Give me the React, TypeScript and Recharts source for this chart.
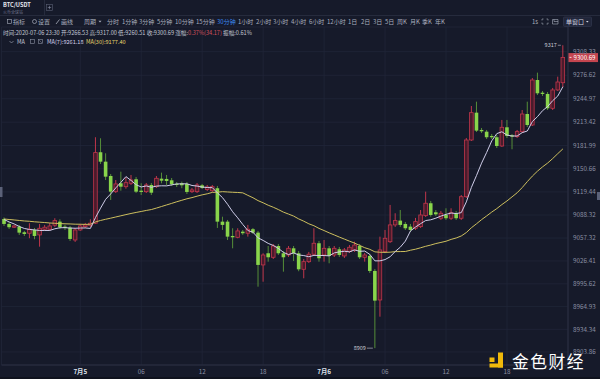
import React from "react";
import { ComposedChart, Bar, Line, XAxis, YAxis, CartesianGrid } from "recharts";

// BTC/USDT 30m candles, 07-04 16:30 .. 07-06 23:30
const opens = [
  9083.0, 9076.3, 9071.9, 9072.7, 9065.1, 9063.8, 9068.2, 9061.5, 9069.2, 9069.2,
  9074.6, 9079.4, 9072.7, 9071.3, 9054.7, 9068.2, 9072.7, 9074.6, 9077.3, 9172.9,
  9160.2, 9140.9, 9119.8, 9131.1, 9126.5, 9131.1, 9136.5, 9121.1, 9119.8, 9128.8,
  9126.5, 9137.3, 9136.9, 9135.1, 9130.2, 9131.1, 9130.2, 9119.8, 9119.8, 9128.4,
  9122.7, 9121.1, 9124.4, 9079.4, 9079.4, 9060.1, 9058.3, 9065.9, 9063.8, 9069.2,
  9064.6, 9021.1, 9036.8, 9031.4, 9046.6, 9036.8, 9034.5, 9043.5, 9036.8, 9015.2,
  9025.5, 9035.5, 9050.3, 9034.5, 9043.5, 9034.5, 9042.2, 9033.2, 9039.0, 9041.3,
  9046.6, 9031.4, 9033.2, 9013.0, 8973.9, 9039.0, 9052.4, 9075.0, 9080.8, 9076.3,
  9072.7, 9070.5, 9072.7, 9087.5, 9104.2, 9092.0, 9084.0, 9088.4, 9084.0, 9090.7,
  9084.0, 9113.0, 9189.4, 9226.2, 9202.9, 9200.6, 9194.8, 9193.1, 9181.3, 9206.5,
  9195.7, 9193.9, 9200.6, 9224.4, 9209.6, 9270.2, 9253.1, 9251.4, 9232.1, 9256.8,
  9266.53,
];
const highs = [
  9085.1, 9079.0, 9075.0, 9075.0, 9066.9, 9077.3, 9070.9, 9076.3, 9075.0, 9077.7,
  9084.0, 9082.6, 9075.0, 9073.6, 9070.9, 9076.3, 9077.7, 9082.6, 9193.1, 9191.7,
  9171.5, 9143.6, 9135.5, 9146.7, 9139.2, 9142.3, 9139.6, 9131.1, 9131.5, 9131.5,
  9140.9, 9145.4, 9142.3, 9138.2, 9132.8, 9133.3, 9132.8, 9124.8, 9131.5, 9130.2,
  9128.8, 9128.8, 9127.5, 9086.1, 9081.7, 9070.5, 9070.5, 9068.2, 9075.0, 9070.9,
  9066.9, 9036.8, 9046.6, 9049.3, 9049.3, 9039.9, 9046.6, 9046.6, 9039.9, 9029.1,
  9038.6, 9070.5, 9053.4, 9054.7, 9046.6, 9046.6, 9045.3, 9043.9, 9047.9, 9052.4,
  9049.3, 9037.2, 9035.9, 9015.7, 9059.2, 9068.2, 9101.9, 9090.7, 9095.1, 9079.0,
  9076.3, 9084.4, 9095.1, 9119.8, 9107.3, 9095.1, 9093.8, 9097.4, 9097.4, 9093.8,
  9115.3, 9192.1, 9235.2, 9241.0, 9205.6, 9202.9, 9197.5, 9196.2, 9216.4, 9216.4,
  9197.5, 9202.9, 9229.8, 9241.0, 9272.9, 9280.1, 9255.4, 9254.1, 9259.5, 9274.7,
  9317,
];
const lows = [
  9073.6, 9069.6, 9070.9, 9061.5, 9060.1, 9057.1, 9055.7, 9045.7, 9066.9, 9066.9,
  9072.3, 9069.6, 9068.2, 9053.4, 9052.1, 9066.9, 9070.9, 9072.3, 9076.3, 9157.1,
  9135.5, 9108.6, 9118.0, 9121.1, 9123.8, 9128.8, 9118.0, 9115.3, 9118.0, 9115.3,
  9124.8, 9131.1, 9128.8, 9127.5, 9126.1, 9124.4, 9116.7, 9118.0, 9118.0, 9123.4,
  9120.7, 9119.4, 9070.9, 9068.2, 9054.7, 9043.5, 9057.0, 9061.5, 9059.2, 9062.8,
  8991.8, 8998.5, 9025.5, 9029.1, 9034.5, 9012.0, 9031.8, 9026.4, 9012.6, 9003.1,
  9023.7, 9033.2, 9025.5, 9025.5, 9023.3, 9031.8, 9031.8, 9030.5, 9037.2, 9038.6,
  9029.1, 9025.5, 9010.3, 8909.0, 8951.4, 9037.2, 9050.7, 9072.3, 9072.3, 9068.2,
  9065.5, 9068.2, 9070.9, 9085.7, 9086.1, 9087.0, 9081.7, 9081.7, 9081.7, 9081.7,
  9081.7, 9111.3, 9188.1, 9200.2, 9198.8, 9190.7, 9190.7, 9178.6, 9180.0, 9192.1,
  9176.9, 9192.1, 9198.8, 9206.9, 9208.3, 9250.0, 9248.7, 9229.8, 9229.8, 9255.4,
  9260.51,
];
const closes = [
  9076.3, 9071.9, 9073.6, 9064.6, 9062.8, 9069.2, 9060.1, 9070.5, 9071.9, 9073.6,
  9080.8, 9071.9, 9070.9, 9056.1, 9068.2, 9073.6, 9075.0, 9077.3, 9172.4, 9160.2,
  9140.0, 9119.8, 9130.2, 9126.5, 9131.9, 9135.5, 9119.8, 9119.4, 9128.8, 9118.4,
  9137.8, 9134.6, 9134.2, 9129.7, 9128.8, 9128.4, 9119.4, 9122.1, 9128.8, 9124.8,
  9126.1, 9126.5, 9079.4, 9075.0, 9059.2, 9058.3, 9066.9, 9063.8, 9069.2, 9064.6,
  9021.1, 9034.5, 9031.4, 9046.6, 9036.8, 9031.4, 9043.5, 9036.8, 9015.2, 9025.5,
  9035.5, 9050.3, 9030.1, 9043.5, 9033.2, 9043.5, 9034.5, 9041.3, 9044.9, 9047.9,
  9031.4, 9034.5, 9013.0, 8973.0, 9041.3, 9057.0, 9075.0, 9080.8, 9075.0, 9070.5,
  9068.2, 9079.4, 9088.4, 9104.2, 9088.4, 9089.3, 9090.7, 9084.0, 9091.5, 9084.0,
  9113.0, 9189.4, 9226.2, 9202.0, 9201.1, 9193.1, 9193.1, 9181.3, 9206.5, 9194.8,
  9193.9, 9200.6, 9224.4, 9209.6, 9270.2, 9252.3, 9251.4, 9232.1, 9256.8, 9267.5,
  9300.69,
];
const ma7 = [
  9082.3, 9079.0, 9076.3, 9072.9, 9070.2, 9068.9, 9068.3, 9067.5, 9067.5, 9067.5,
  9069.8, 9071.2, 9071.3, 9070.8, 9070.5, 9070.8, 9070.9, 9070.3, 9084.8, 9097.6,
  9109.5, 9116.8, 9124.9, 9132.3, 9140.1, 9134.9, 9129.1, 9126.1, 9127.5, 9125.7,
  9127.3, 9127.7, 9127.6, 9128.9, 9130.3, 9130.3, 9130.4, 9128.1, 9127.3, 9126.0,
  9125.4, 9125.2, 9118.2, 9111.8, 9102.8, 9092.7, 9084.5, 9075.6, 9067.4, 9065.2,
  9057.6, 9054.1, 9050.1, 9047.3, 9043.4, 9038.0, 9035.1, 9037.3, 9034.5, 9033.7,
  9032.1, 9034.0, 9033.8, 9033.8, 9033.3, 9037.3, 9038.7, 9039.5, 9038.7, 9041.3,
  9039.5, 9039.8, 9035.3, 9026.6, 9026.6, 9028.3, 9032.1, 9039.2, 9045.0, 9053.2,
  9066.8, 9072.2, 9076.7, 9080.9, 9081.9, 9084.1, 9086.9, 9089.2, 9091.0, 9090.3,
  9091.5, 9106.0, 9125.6, 9141.5, 9158.2, 9172.7, 9188.2, 9198.0, 9200.5, 9196.0,
  9194.8, 9194.8, 9199.3, 9201.5, 9214.3, 9220.8, 9228.9, 9234.4, 9242.4, 9248.6,
  9261.18,
];
const ma30 = [
  9083.0, 9082.3, 9081.7, 9081.0, 9080.3, 9079.9, 9079.2, 9078.7, 9078.2, 9077.6,
  9077.2, 9076.8, 9076.5, 9076.3, 9076.0, 9075.9, 9075.7, 9075.9, 9079.0, 9081.0,
  9082.6, 9084.1, 9085.7, 9087.3, 9088.9, 9090.4, 9091.8, 9093.1, 9094.5, 9095.7,
  9097.7, 9099.8, 9101.9, 9104.0, 9106.2, 9108.2, 9110.2, 9111.8, 9113.7, 9115.5,
  9116.9, 9118.8, 9119.1, 9119.8, 9119.4, 9119.0, 9118.7, 9118.2, 9114.8, 9111.6,
  9107.7, 9104.8, 9101.5, 9098.8, 9095.7, 9092.2, 9089.6, 9086.9, 9083.1, 9080.0,
  9076.5, 9073.9, 9070.3, 9067.4, 9064.3, 9061.5, 9058.6, 9055.9, 9053.1, 9050.5,
  9047.4, 9044.3, 9042.1, 9038.7, 9038.2, 9038.0, 9038.3, 9039.0, 9039.1, 9039.2,
  9040.9, 9042.3, 9044.2, 9046.2, 9047.9, 9049.9, 9051.4, 9053.0, 9055.5, 9057.4,
  9060.1, 9064.7, 9071.2, 9076.5, 9082.1, 9087.1, 9092.3, 9097.0, 9102.4, 9107.3,
  9112.8, 9118.3, 9125.3, 9133.3, 9140.8, 9147.4, 9153.2, 9158.3, 9164.4, 9171.0,
  9177.40,
];

const yTicks = [
  8903.86, 8934.34, 8964.93, 8995.62, 9026.41, 9057.32, 9088.32,
  9119.44, 9150.66, 9181.99, 9213.42, 9244.97, 9276.62, 9308.33,
];
const tickTimes = [
  "07-05 00:00", "07-05 06:00", "07-05 12:00", "07-05 18:00",
  "07-06 00:00", "07-06 06:00", "07-06 12:00", "07-06 18:00",
];
const tickLabels = ["7月5", "06", "12", "18", "7月6", "06", "12", "18"];
const periods = [
  "分时", "1分钟", "3分钟", "5分钟", "10分钟", "15分钟", "30分钟", "1小时", "2小时", "3小时", "4小时",
  "6小时", "12小时", "1日", "2日", "3日", "5日", "周K", "月K", "季K", "年K",
];

const FONT = "'Noto Sans CJK SC', 'Noto Sans', sans-serif";
const BG = "#161a2a";
const GRID = "#212638";
const AXIS = "#2a2f43";
const TXT = "#8a8fa2";
const RED = "#c0364b";
const RED_FILL = "#4a1b2c";
const GREEN = "#89d54b";
const GREEN_WICK = "#558e39";
const PLOT_RIGHT = 568;

const pad = (n: number) => String(n).padStart(2, "0");
const times = closes.map((_, i) => {
  const m = 16 * 60 + 30 + i * 30;
  const day = 4 + Math.floor(m / 1440);
  const mm = m % 1440;
  return `07-${pad(day)} ${pad(Math.floor(mm / 60))}:${pad(mm % 60)}`;
});

const data = closes.map((c, i) => ({
  t: times[i],
  open: opens[i],
  high: highs[i],
  low: lows[i],
  close: c,
  range: [lows[i], highs[i]],
  ma7: ma7[i],
  ma30: ma30[i],
}));

const maxHigh = Math.max(...highs);
const minLow = Math.min(...lows);
const lastIdx = closes.length - 1;

function Candle(props: any) {
  const { x, y, width, height, payload, index } = props;
  if (!payload) return null;
  const top = Math.min(y, y + height);
  const bot = Math.max(y, y + height);
  const { open, close, high, low } = payload;
  const span = high - low || 1;
  const py = (p: number) => top + ((high - p) / span) * (bot - top);
  const cx = x + width / 2;
  const up = close >= open;
  const bTop = py(Math.max(open, close));
  const bh = Math.max(py(Math.min(open, close)) - bTop, 0.8);
  const bw = 3.6;
  return (
    <g>
      <line x1={cx} x2={cx} y1={top} y2={bot} stroke={up ? RED : GREEN_WICK} strokeWidth={1} />
      <rect
        x={cx - bw / 2}
        y={bTop}
        width={bw}
        height={bh}
        fill={up ? RED_FILL : GREEN}
        stroke={up ? RED : "none"}
        strokeWidth={up ? 0.8 : 0}
      />
      {high === maxHigh && (
        <g>
          <text x={cx - 6} y={top + 2} textAnchor="end" fontSize={5.5} fill="#c9ccd8" fontFamily={FONT}>
            {high.toFixed(0)}
          </text>
          <line x1={cx - 5} x2={cx - 2} y1={top} y2={top} stroke="#c9ccd8" strokeWidth={0.6} />
        </g>
      )}
      {low === minLow && (
        <g>
          <text x={cx - 9} y={bot + 1.5} textAnchor="end" fontSize={5.5} fill="#c9ccd8" fontFamily={FONT}>
            {low.toFixed(0)}
          </text>
          <line x1={cx - 8} x2={cx - 2} y1={bot} y2={bot} stroke="#c9ccd8" strokeWidth={0.6} />
        </g>
      )}
      {index === lastIdx && (
        <g>
          <rect x={PLOT_RIGHT} y={py(close) - 4.3} width={30} height={9} fill="#c5454f" />
          <line x1={569.5} x2={571.5} y1={py(close)} y2={py(close)} stroke="#fff" strokeWidth={0.8} />
          <text x={573.5} y={py(close) + 2.2} fontSize={6.1} fill="#fff" fontFamily={FONT}>
            {close.toFixed(2)}
          </text>
        </g>
      )}
    </g>
  );
}

const XTick = ({ x, y, payload }: any) => {
  const label = tickLabels[tickTimes.indexOf(payload.value)];
  const day = label.includes("月");
  return (
    <text
      x={x}
      y={y + 6}
      textAnchor="middle"
      fontSize={6.3}
      fontWeight={day ? 700 : 400}
      fill={day ? "#dfe2ec" : TXT}
      fontFamily={FONT}
    >
      {label}
    </text>
  );
};

function Header() {
  const periodX = [107, 122, 139, 157, 175, 196, 217, 238, 256, 273, 291, 309, 327, 348, 361, 373, 385, 397, 410, 422, 435];
  const rowText = { fontFamily: FONT, fontSize: 6, fill: "#a9aebd" };
  return (
    <svg width={600} height={379} style={{ position: "absolute", left: 0, top: 0, pointerEvents: "none" }}>
      {/* tab row */}
      <line x1={0} x2={600} y1={15.5} y2={15.5} stroke="#262b3d" />
      <line x1={44.5} x2={44.5} y1={0} y2={15} stroke="#262b3d" />
      <text x={3} y={7.3} fontSize={5.6} fontWeight={600} fill="#e4e6ee" fontFamily={FONT}>BTC/USDT</text>
      <text x={3} y={13.6} fontSize={4} fill="#737890" fontFamily={FONT}>火币全球站</text>
      <rect x={46.5} y={4.5} width={6} height={6} fill="none" stroke="#5a6075" strokeWidth={0.6} />
      <line x1={49.5} x2={49.5} y1={5.8} y2={9.2} stroke="#8a8fa2" strokeWidth={0.6} />
      <line x1={47.8} x2={51.2} y1={7.5} y2={7.5} stroke="#8a8fa2" strokeWidth={0.6} />

      {/* toolbar row */}
      <rect x={7.5} y={19.3} width={4} height={4.4} fill="none" stroke="#a9aebd" strokeWidth={0.6} />
      <text x={13} y={23.7} {...rowText}>指标</text>
      <circle cx={34.5} cy={21.5} r={2} fill="none" stroke="#a9aebd" strokeWidth={0.7} />
      <text x={38} y={23.7} {...rowText}>设置</text>
      <line x1={56} x2={59.5} y1={24} y2={19.5} stroke="#a9aebd" strokeWidth={0.8} />
      <text x={61} y={23.7} {...rowText}>画线</text>
      <text x={84} y={23.7} {...rowText}>周期</text>
      <path d="M98.5,20.8 L101.5,20.8 L100,22.6 Z" fill="#a9aebd" />
      {periods.map((p, i) => (
        <text key={p + i} x={periodX[i]} y={23.7} {...rowText} fill={p === "30分钟" ? "#3d8bf0" : "#a9aebd"}>
          {p}
        </text>
      ))}
      <text x={532} y={23.7} {...rowText}>1s</text>
      <path d="M542,20.5 V19 H543.5 M546.5,19 H548 V20.5 M548,22.5 V24 H546.5 M543.5,24 H542 V22.5" fill="none" stroke="#a9aebd" strokeWidth={0.6} />
      <path d="M552.5,19.5 H558 V24 H552.5 Z M554,19.5 V21.5 H558" fill="none" stroke="#a9aebd" strokeWidth={0.6} />
      <rect x={563.5} y={17} width={28} height={9.5} rx={1} fill="#21263a" stroke="#353b52" strokeWidth={0.6} />
      <text x={566} y={23.7} {...rowText} fill="#d5d8e2">单窗口</text>
      <path d="M586,21 L588.6,21 L587.3,22.6 Z" fill="#d5d8e2" />

      {/* info row */}
      <text x={3} y={35.3} fontSize={5.6} fill="#c3c7d4" fontFamily={FONT}>
        时间:2020-07-06 23:30 开:9266.53 高:9317.00 低:9260.51 收:9300.69 涨幅:
        <tspan fill="#d4525e">0.37%(34.17)</tspan> 振幅:0.61%
      </text>

      {/* MA legend row */}
      <path d="M9.5,41 L11.5,43 L13.5,41" fill="none" stroke="#a9aebd" strokeWidth={0.6} />
      <text x={17} y={44} fontSize={5.6} fill="#c3c7d4" fontFamily={FONT}>MA</text>
      <rect x={30.5} y={39.5} width={4} height={4} fill="none" stroke="#8a8fa2" strokeWidth={0.6} />
      <rect x={38.5} y={39.5} width={4} height={4} fill="none" stroke="#8a8fa2" strokeWidth={0.6} />
      <line x1={39.2} x2={41.8} y1={40.2} y2={42.8} stroke="#8a8fa2" strokeWidth={0.5} />
      <text x={47} y={44} fontSize={5.6} fill="#d4d3ec" fontFamily={FONT}>MA(7):9261.18</text>
      <text x={86} y={44} fontSize={5.6} fill="#e6d66c" fontFamily={FONT}>MA(30):9177.40</text>

      {/* edge tabs */}
      <rect x={0} y={187} width={2.5} height={10} fill="#5b6178" />
      <rect x={597} y={192} width={3} height={8} fill="#5b6178" />
      <rect x={0} y={377} width={600} height={2} fill="#0f121d" />

      {/* watermark */}
      <rect x={489.5} y={357.5} width={5} height={4.5} fill="#f0b90b" />
      <rect x={498} y={352.5} width={5} height={15} fill="#f0b90b" />
      <rect x={489.5} y={363.5} width={13.5} height={4} fill="#f0b90b" />
      <text x={512} y={367.5} fontSize={16.8} fill="#ffffff" fontFamily={FONT} letterSpacing={1.5}>
        金色财经
      </text>
    </svg>
  );
}

export default function App() {
  return (
    <div
      style={{
        position: "fixed",
        left: 0,
        top: 0,
        width: 600,
        height: 379,
        background: BG,
        overflow: "hidden",
        fontFamily: FONT,
      }}
    >
      <ComposedChart width={600} height={379} data={data} margin={{ top: 27, right: 0, bottom: 0, left: 1.5 }}>
        <CartesianGrid stroke={GRID} strokeWidth={0.8} />
        <XAxis
          dataKey="t"
          ticks={tickTimes}
          interval={0}
          height={14}
          tickSize={0}
          tickMargin={3}
          tickLine={false}
          axisLine={{ stroke: AXIS }}
          padding={{ left: 0, right: 2.6 }}
          tick={<XTick />}
        />
        <YAxis
          orientation="right"
          type="number"
          width={32}
          domain={[8886.3, 9341.6]}
          ticks={yTicks}
          interval={0}
          tickSize={0}
          tickMargin={5}
          tickLine={false}
          axisLine={{ stroke: AXIS }}
          tick={{ fontSize: 6.3, fill: TXT, fontFamily: FONT }}
          tickFormatter={(v: number) => v.toFixed(2)}
        />
        <Bar dataKey="range" shape={<Candle />} isAnimationActive={false} />
        <Line type="linear" dataKey="ma30" stroke="#cdbf5e" strokeWidth={1} dot={false} activeDot={false} isAnimationActive={false} />
        <Line type="linear" dataKey="ma7" stroke="#cfcde9" strokeWidth={1} dot={false} activeDot={false} isAnimationActive={false} />
      </ComposedChart>
      <Header />
    </div>
  );
}
